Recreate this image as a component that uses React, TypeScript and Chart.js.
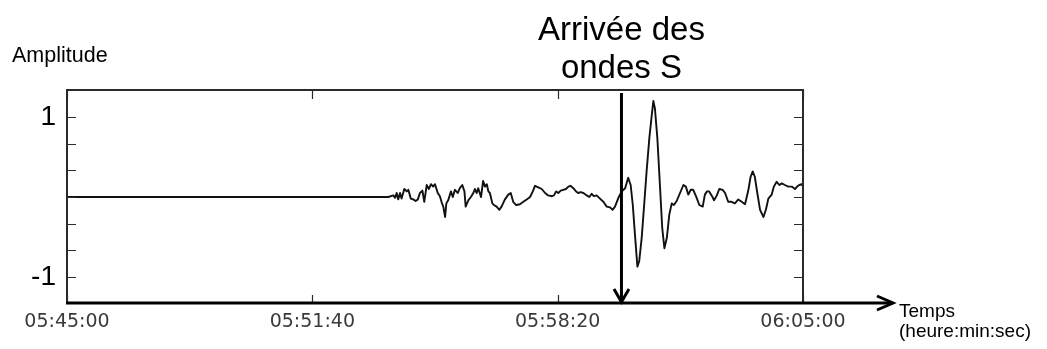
import React, { useEffect, useRef } from "react";
import { Chart, registerables } from "chart.js";

Chart.register(...registerables);

// Time since 05:45:00, in seconds
const timeSeconds: number[] = [
  0, 518, 524, 532, 535, 537.5, 540, 543, 545.5, 550,
  554, 556.5, 560.5, 564.5, 568.5, 572, 575.5, 579.5, 582.5, 586.5,
  590, 593.5, 597, 600, 604.5, 608, 611, 613.5, 616.5, 618.5,
  621.5, 626, 629, 632.5, 637, 640.5, 644.5, 648, 650, 654.5,
  658.5, 662.5, 665, 668, 670.5, 675, 678.5, 681.5, 684.5, 687,
  689.5, 693.5, 696, 700.5, 705, 708.5, 714, 719.5, 723.5, 727.5,
  732, 738.5, 744, 749.5, 755, 759.5, 763, 768.5, 774, 779.5,
  784.5, 790.5, 794, 797.5, 801, 805, 809, 813.5, 817.5, 821,
  825.5, 830, 833.5, 837.5, 842, 847.5, 851.5, 855.5, 859, 863.5,
  869, 874.5, 880, 885.5, 889.5, 893.5, 899, 904.5, 910, 915,
  919, 922.5, 926, 930, 933, 937, 941, 945, 949.5, 953.5,
  956, 958.5, 962.5, 967, 970.5, 974, 978, 982, 986, 989.5,
  994, 999.5, 1005, 1009, 1013, 1017, 1021, 1025.5, 1031, 1036.5,
  1040, 1043.5, 1047, 1051, 1055, 1059.5, 1063.5, 1069, 1073, 1078,
  1083.5, 1089, 1094.5, 1100, 1105.5, 1111, 1114.5, 1118, 1121.5, 1125.5,
  1130, 1135.5, 1139.5, 1143.5, 1149, 1152.5, 1157, 1161.5, 1165.5, 1170.5,
  1176, 1181.5, 1187, 1190.5, 1194, 1198, 1200,
];

const amplitude: number[] = [
  0, 0, 0, 0.02, -0.01, 0.05, -0.03, 0.05, -0.02, 0.1,
  0.07, 0.09, -0.02, -0.03, -0.05, -0.03, 0.05, 0.08, -0.06, 0.15,
  0.1, 0.16, 0.13, 0.16, 0.05, 0.01, -0.07, -0.12, -0.25, -0.08,
  -0.04, 0.07, 0.0, 0.09, 0.05, 0.11, 0.15, 0.07, -0.12, -0.04,
  0.0, 0.05, 0.1, 0.05, 0.11, 0.0, 0.2, 0.13, 0.16, 0.07,
  0.05, -0.08, -0.1, -0.12, -0.16, -0.12, -0.03, 0.03, 0.05, -0.06,
  -0.1, -0.09, -0.06, -0.03, 0.0, 0.07, 0.14, 0.12, 0.1, 0.05,
  0.02, 0.01, 0.02, 0.07, 0.05, 0.08, 0.09, 0.1, 0.13, 0.14,
  0.11, 0.07, 0.05, 0.06, 0.05, 0.02, 0.0, 0.04, 0.01, 0.02,
  -0.02, -0.06, -0.12, -0.13, -0.16, -0.12, -0.01, 0.07, 0.11, 0.24,
  0.15, -0.1, -0.47, -0.87, -0.8, -0.51, -0.1, 0.32, 0.74, 1.03,
  1.2, 1.11, 0.74, 0.11, -0.39, -0.64, -0.51, -0.22, -0.08, -0.1,
  -0.05, 0.05, 0.15, 0.13, 0.03, 0.09, 0.09, 0.01, -0.1, -0.12,
  0.03, 0.07, 0.07, 0.02, -0.04, 0.02, 0.1, 0.09, 0.05, -0.06,
  -0.06, -0.08, -0.03, -0.06, -0.09, 0.09, 0.25, 0.32, 0.25, 0.05,
  -0.16, -0.25, -0.16, -0.02, 0.03, 0.13, 0.19, 0.15, 0.17, 0.15,
  0.13, 0.13, 0.1, 0.13, 0.15, 0.16, 0.13,
];

const xTickValues: number[] = [0, 400, 800, 1200];
const xTickLabels: string[] = ["05:45:00", "05:51:40", "05:58:20", "06:05:00"];
const yTickValues: number[] = [-1, -2 / 3, -1 / 3, 0, 1 / 3, 2 / 3, 1];
const yTickLabels: string[] = ["-1", "", "", "", "", "", "1"];
const sWaveArrival = 904;
const titleLines: string[] = ["Arrivée des", "ondes S"];
const yAxisTitle = "Amplitude";
const xAxisTitleLines: string[] = ["Temps", "(heure:min:sec)"];

const overlay = {
  id: "seismoOverlay",
  afterDraw(chart: any) {
    const { ctx, chartArea } = chart;
    const xs = chart.scales.x;
    const ys = chart.scales.y;
    const { left, right, top, bottom } = chartArea;
    ctx.save();
    // frame
    ctx.strokeStyle = "#2a2a2a";
    ctx.lineWidth = 2;
    ctx.beginPath();
    ctx.moveTo(left, bottom);
    ctx.lineTo(left, top);
    ctx.lineTo(right, top);
    ctx.lineTo(right, bottom);
    ctx.stroke();
    // inward ticks
    ctx.lineWidth = 1.2;
    ctx.beginPath();
    for (const v of yTickValues) {
      const y = Math.round(ys.getPixelForValue(v)) + 0.5;
      ctx.moveTo(left, y);
      ctx.lineTo(left + 9, y);
      ctx.moveTo(right, y);
      ctx.lineTo(right - 9, y);
    }
    for (const v of xTickValues) {
      const x = Math.round(xs.getPixelForValue(v)) + 0.5;
      ctx.moveTo(x, top);
      ctx.lineTo(x, top + 9);
      ctx.moveTo(x, bottom);
      ctx.lineTo(x, bottom - 8);
    }
    ctx.stroke();
    // time axis arrow
    ctx.strokeStyle = "#000";
    ctx.lineWidth = 3;
    ctx.lineCap = "butt";
    ctx.lineJoin = "miter";
    const tipX = right + 90;
    ctx.beginPath();
    ctx.moveTo(left - 1, bottom);
    ctx.lineTo(tipX, bottom);
    ctx.stroke();
    ctx.beginPath();
    ctx.moveTo(tipX - 16, bottom - 7);
    ctx.lineTo(tipX, bottom);
    ctx.lineTo(tipX - 16, bottom + 7);
    ctx.stroke();
    // S-wave arrival arrow
    const ax = xs.getPixelForValue(sWaveArrival);
    ctx.beginPath();
    ctx.moveTo(ax, top + 3);
    ctx.lineTo(ax, bottom - 1);
    ctx.stroke();
    ctx.beginPath();
    ctx.moveTo(ax - 7.5, bottom - 14);
    ctx.lineTo(ax, bottom - 1);
    ctx.lineTo(ax + 7.5, bottom - 14);
    ctx.stroke();
    // texts
    ctx.fillStyle = "#000";
    ctx.textBaseline = "alphabetic";
    ctx.textAlign = "center";
    ctx.font = "33px 'Liberation Sans', Arial, sans-serif";
    ctx.fillText(titleLines[0], ax, 40);
    ctx.fillText(titleLines[1], ax, 77.5);
    ctx.textAlign = "left";
    ctx.font = "21.5px 'Liberation Sans', Arial, sans-serif";
    ctx.fillText(yAxisTitle, 12, 61.5);
    ctx.font = "19px 'Liberation Sans', Arial, sans-serif";
    ctx.fillText(xAxisTitleLines[0], tipX + 6, 316.5);
    ctx.fillText(xAxisTitleLines[1], tipX + 6, 337);
    ctx.restore();
  },
};

export default function App() {
  const canvasRef = useRef<HTMLCanvasElement | null>(null);

  useEffect(() => {
    if (!canvasRef.current) return;
    const points = timeSeconds.map((t, i) => ({ x: t, y: amplitude[i] }));
    const chart = new Chart(canvasRef.current, {
      type: "line",
      data: {
        datasets: [
          {
            data: points,
            borderColor: "#111",
            borderWidth: 1.9,
            pointRadius: 0,
            tension: 0,
            fill: false,
            borderJoinStyle: "round",
          },
        ],
      },
      options: {
        animation: false,
        responsive: false,
        maintainAspectRatio: false,
        layout: { padding: { top: 90, right: 244, left: 0, bottom: 0 } },
        plugins: {
          legend: { display: false },
          tooltip: { enabled: false },
          title: { display: false },
        },
        scales: {
          x: {
            type: "linear",
            min: 0,
            max: 1200,
            border: { display: false },
            grid: { display: false, drawTicks: false },
            afterFit: (s: any) => {
              s.height = 46;
            },
            afterBuildTicks: (s: any) => {
              s.ticks = xTickValues.map((v) => ({ value: v }));
            },
            ticks: {
              autoSkip: false,
              maxRotation: 0,
              padding: 8,
              color: "#3a3a3a",
              font: { family: "'DejaVu Sans', sans-serif", size: 19 },
              callback: (v: any) => {
                const i = xTickValues.indexOf(Number(v));
                return i >= 0 ? xTickLabels[i] : "";
              },
            },
          },
          y: {
            type: "linear",
            min: -1.325,
            max: 1.3375,
            border: { display: false },
            grid: { display: false, drawTicks: false },
            afterFit: (s: any) => {
              s.width = 67;
            },
            afterBuildTicks: (s: any) => {
              s.ticks = yTickValues.map((v) => ({ value: v }));
            },
            ticks: {
              autoSkip: false,
              padding: 11,
              color: "#000",
              font: { family: "'Liberation Sans', Arial, sans-serif", size: 28 },
              callback: (v: any) => {
                const i = yTickValues.findIndex((t) => Math.abs(t - Number(v)) < 1e-6);
                return i >= 0 ? yTickLabels[i] : "";
              },
            },
          },
        },
      },
      plugins: [overlay],
    });
    return () => chart.destroy();
  }, []);

  return (
    <div style={{ position: "fixed", left: 0, top: 0, width: 1047, height: 349, background: "#fff" }}>
      <canvas ref={canvasRef} width={1047} height={349} style={{ width: 1047, height: 349 }} />
    </div>
  );
}
